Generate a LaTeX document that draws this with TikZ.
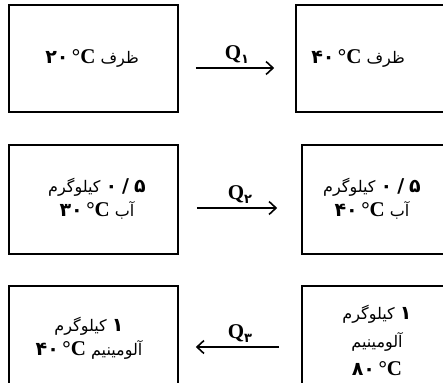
\documentclass[tikz,border=0pt]{standalone}
\usepackage{fontspec}
\setmainfont{Liberation Serif}
\newfontfamily\arabicfont[Script=Arabic]{DejaVu Sans}
\TeXXeTstate=1
\usetikzlibrary{arrows.meta}

% Persian digits, bold
\newcommand{\fanum}[1]{{\arabicfont\bfseries\fontsize{19}{19}\selectfont #1}}
% temperature: Persian digits + degree sign
\newcommand{\tmpc}[1]{\beginL\fanum{#1}{\rmfamily\bfseries\fontsize{21}{21}\selectfont\,°C}\endL}
% heat label with Persian subscript
\newcommand{\heatq}[1]{{\rmfamily\bfseries\fontsize{21}{21}\selectfont Q}\raisebox{-4pt}{\arabicfont\bfseries\fontsize{13}{13}\selectfont #1}}
% mass 0/5 (left to right)
\newcommand{\halfkg}{\beginL\fanum{۰\hspace{5pt}/\hspace{5pt}۵}\endL}

\tikzset{
  box/.style={draw, line width=1.6pt, minimum width=169pt, minimum height=108pt, inner sep=0pt},
  txt/.style={align=center, font=\arabicfont\fontsize{16}{24}\selectfont, inner sep=0pt},
  flow/.style={line width=1.6pt, -{Straight Barb[length=7pt,width=13pt,line width=1.6pt]}},
}

\begin{document}
\begin{tikzpicture}[x=1pt, y=1pt]

  % === frame of the figure ===
  \useasboundingbox (0,0) rectangle (443,-382);
  \clip (0,0) rectangle (443,-382);

  % === boxes (the right column runs off the page) ===
  \node[box, minimum height=107pt] (b1l) at (93.5,-58.5) {};
  \node[box, minimum height=107pt] (b1r) at (380.5,-58.5) {};
  \node[box, minimum height=109pt] (b2l) at (93.5,-199.5) {};
  \node[box, minimum height=109pt] (b2r) at (386.5,-199.5) {};
  \node[box] (b3l) at (93.5,-340) {};
  \node[box] (b3r) at (386.5,-340) {};

  % === texts ===
  % container
  \node[txt] (t1l) at (92,-58) {\beginR ظرف \tmpc{۲۰}\endR};
  \node[txt] (t1r) at (358,-58) {\beginR ظرف \tmpc{۴۰}\endR};
  % water
  \node[txt] (t2l) at (97,-199)
    {\beginR\halfkg{} کیلوگرم\endR\\ \beginR آب \tmpc{۳۰}\endR};
  \node[txt] (t2r) at (372,-199)
    {\beginR\halfkg{} کیلوگرم\endR\\ \beginR آب \tmpc{۴۰}\endR};
  % aluminium
  \node[txt] (t3l) at (89,-338)
    {\beginR\fanum{۱} کیلوگرم\endR\\ \beginR آلومینیم \tmpc{۴۰}\endR};
  \node[txt, font=\arabicfont\fontsize{16}{28}\selectfont] (t3r) at (377,-340)
    {\beginR\fanum{۱} کیلوگرم\endR\\ \beginR آلومینیم\endR\\ \tmpc{۸۰}};

  % === heat flows ===
  \draw[flow, shorten <=17pt, shorten >=21pt]
    ([yshift=-9.5pt]b1l.east) -- ([yshift=-9.5pt]b1r.west)
    node[midway, above=0pt] (q1) {\heatq{۱}};
  \draw[flow, shorten <=18pt, shorten >=24pt]
    ([yshift=-8.5pt]b2l.east) -- ([yshift=-8.5pt]b2r.west)
    node[midway, above=0pt] (q2) {\heatq{۲}};
  \draw[flow, shorten <=22pt, shorten >=17pt]
    ([yshift=-7pt]b3r.west) -- ([yshift=-7pt]b3l.east)
    node[midway, above=0pt] (q3) {\heatq{۳}};

\end{tikzpicture}
\end{document}
